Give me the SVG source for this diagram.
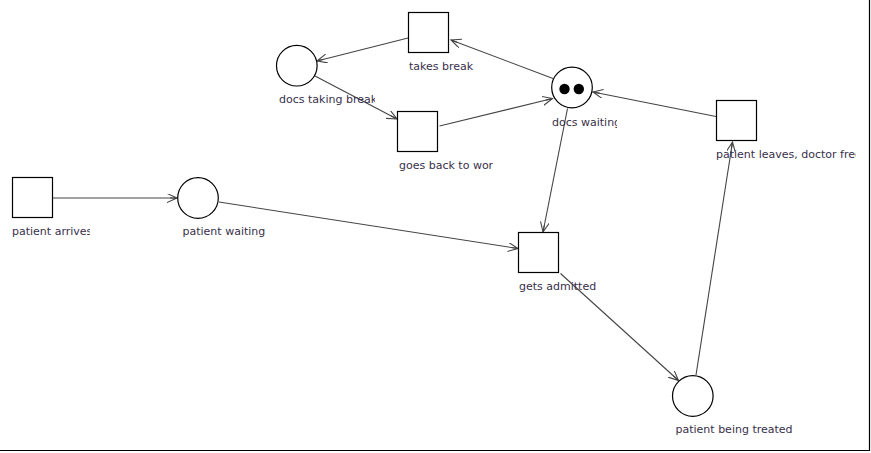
<svg xmlns="http://www.w3.org/2000/svg" width="871" height="453" viewBox="0 0 871 453">
<style>
  .node { fill: #fff; stroke: #000; stroke-width: 1.2; }
  .tok { fill: #000; stroke: none; }
  .lbl { font-family: "DejaVu Sans", Verdana, sans-serif; font-size: 11px; fill: #38304a; }
  .arc { stroke: #444; stroke-width: 1.1; fill: none; marker-end: url(#arr); }
  .frame { stroke: #000; stroke-width: 1.2; fill: none; }
</style>
<defs>
  <marker id="arr" markerUnits="userSpaceOnUse" markerWidth="12" markerHeight="10" refX="10" refY="4.5" orient="auto">
    <path d="M0,0 L10,4.5 L0,9 M3,4.5 L10,4.5" fill="none" stroke="#444" stroke-width="1.1"/>
  </marker>
  <clipPath id="c-pa"><rect x="0" y="220" width="90" height="20"/></clipPath>
  <clipPath id="c-dtb"><rect x="270" y="88" width="105" height="20"/></clipPath>
  <clipPath id="c-gb"><rect x="390" y="154" width="103" height="20"/></clipPath>
  <clipPath id="c-dw"><rect x="545" y="110" width="72" height="20"/></clipPath>
  <clipPath id="c-pl"><rect x="710" y="143" width="146" height="20"/></clipPath>
</defs>
<rect x="0" y="0" width="871" height="453" fill="#fff"/>
<path class="frame" d="M0,450.5 H869.5 V0"/>

<g id="connectors">
  <line class="arc" x1="53" y1="198" x2="177" y2="198"/>
  <line class="arc" x1="219" y1="202" x2="518" y2="248.5"/>
  <line class="arc" x1="567.5" y1="108.5" x2="543" y2="232"/>
  <line class="arc" x1="560.5" y1="273.5" x2="678.5" y2="380.5"/>
  <line class="arc" x1="696" y1="375" x2="732.5" y2="142"/>
  <line class="arc" x1="716" y1="116.5" x2="593" y2="92"/>
  <line class="arc" x1="553" y1="78.5" x2="451" y2="40"/>
  <line class="arc" x1="408" y1="38" x2="317" y2="61"/>
  <line class="arc" x1="315" y1="76" x2="397" y2="119"/>
  <line class="arc" x1="439.5" y1="126" x2="552.5" y2="98.5"/>
</g>

<g id="patient-arrives">
  <rect class="node" x="12.5" y="177.5" width="40" height="40"/>
  <text class="lbl" x="12" y="235" clip-path="url(#c-pa)">patient arrives</text>
</g>
<g id="patient-waiting">
  <circle class="node" cx="198" cy="198" r="20.3"/>
  <text class="lbl" x="182.5" y="235">patient waiting</text>
</g>
<g id="takes-break">
  <rect class="node" x="408.5" y="12.5" width="40" height="40"/>
  <text class="lbl" x="409" y="70">takes break</text>
</g>
<g id="docs-taking-break">
  <circle class="node" cx="296.8" cy="65.7" r="20.3"/>
  <text class="lbl" x="279" y="103" clip-path="url(#c-dtb)">docs taking break</text>
</g>
<g id="goes-back-to-work">
  <rect class="node" x="397.5" y="111.5" width="40" height="40"/>
  <text class="lbl" x="399" y="169" clip-path="url(#c-gb)">goes back to work</text>
</g>
<g id="docs-waiting">
  <circle class="node" cx="572" cy="87.5" r="20.3"/>
  <circle class="tok" cx="564.5" cy="89" r="5.2"/>
  <circle class="tok" cx="578.8" cy="89" r="5.2"/>
  <text class="lbl" x="552" y="125.5" clip-path="url(#c-dw)">docs waiting</text>
</g>
<g id="patient-leaves">
  <rect class="node" x="716.5" y="100.5" width="40" height="40"/>
  <text class="lbl" x="716" y="158" clip-path="url(#c-pl)">patient leaves, doctor free</text>
</g>
<g id="gets-admitted">
  <rect class="node" x="518.5" y="232.5" width="40" height="40"/>
  <text class="lbl" x="519" y="290">gets admitted</text>
</g>
<g id="patient-being-treated">
  <circle class="node" cx="692.8" cy="396" r="20.3"/>
  <text class="lbl" x="675.5" y="433">patient being treated</text>
</g>
</svg>
